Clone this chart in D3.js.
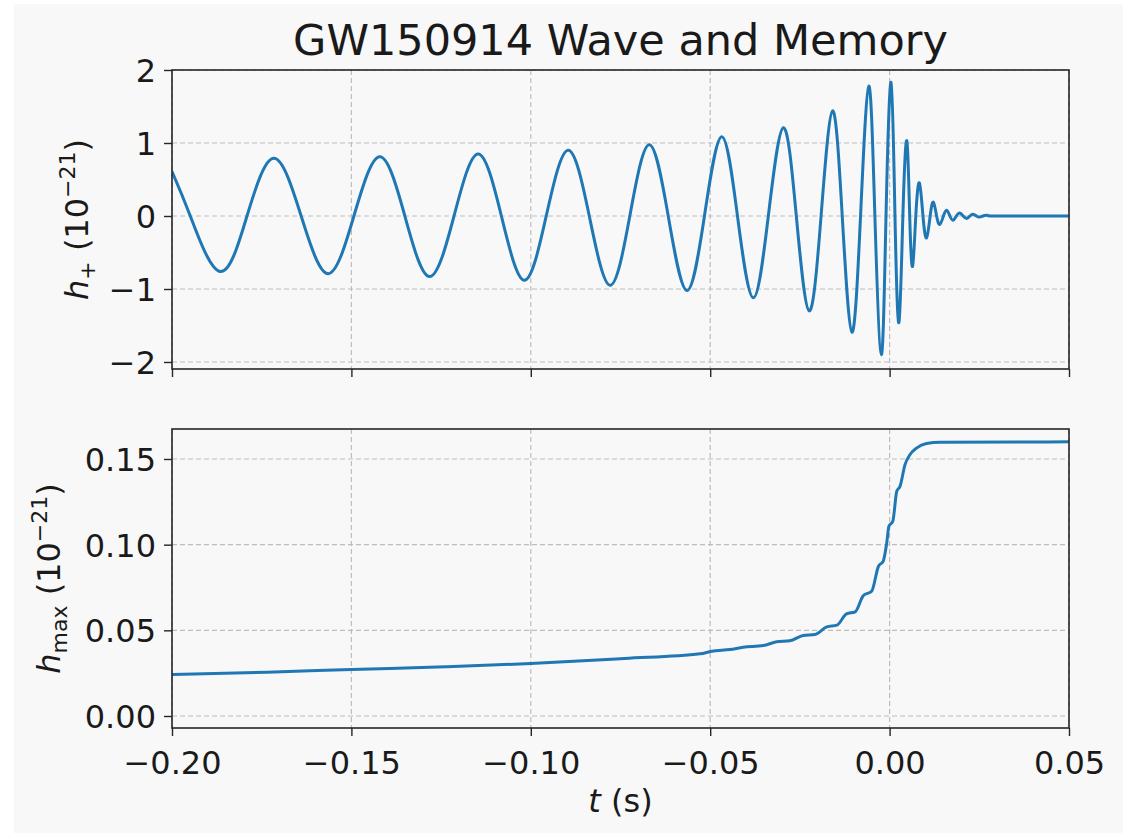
<!DOCTYPE html>
<html>
<head>
<meta charset="utf-8">
<script src="https://cdn.jsdelivr.net/npm/d3@7"></script>
<style>
  html, body { margin: 0; padding: 0; background: #ffffff; }
  svg { display: block; }
  text { font-family: "DejaVu Sans", sans-serif; fill: #1a1a1a; }
</style>
</head>
<body>
<svg id="chart" width="1130" height="833"></svg>
<script>
// ---- data ----
const titleText = "GW150914 Wave and Memory";
const xTicks = [-0.20, -0.15, -0.10, -0.05, 0.00, 0.05];
const topTicks = [-2, -1, 0, 1, 2];
const botTicks = [0.00, 0.05, 0.10, 0.15];

// strain h+ (1e-21): extrema and zero crossings
const waveT = [
  -0.2000, -0.1949, -0.1866, -0.1791, -0.1716, -0.1640, -0.1565, -0.1493,
  -0.1421, -0.1351, -0.1282, -0.1214, -0.1147, -0.1082, -0.1018, -0.0957,
  -0.0896, -0.0837, -0.0779, -0.0724, -0.0670, -0.0617, -0.0565, -0.0516,
  -0.0468, -0.0424, -0.0380, -0.0338, -0.0296, -0.0260, -0.0224, -0.0191,
  -0.0159, -0.0132, -0.0105, -0.0081, -0.0058, -0.0041, -0.0023, -0.0010,
   0.0004,  0.0015,  0.0026,  0.0037,  0.0048,  0.0056,  0.0064,  0.0073,
   0.0083,  0.0093,  0.0103,  0.0113,  0.0122,  0.0131,  0.0140,  0.0150,
   0.0159,  0.0168,  0.0177,  0.0186,  0.0195,  0.0205,  0.0215,  0.0224,
   0.0233,  0.0242,  0.0251,  0.0260,  0.0270,  0.0280,  0.0310,  0.0350,
   0.0400,  0.0450,  0.0500
];
const waveH = [
   0.61,  0,    -0.76,  0,     0.79,  0,    -0.79,  0,
   0.81,  0,    -0.83,  0,     0.85,  0,    -0.88,  0,
   0.90,  0,    -0.95,  0,     0.975, 0,    -1.02,  0,
   1.085, 0,    -1.12,  0,     1.21,  0,    -1.30,  0,
   1.44,  0,    -1.59,  0,     1.78,  0,    -1.90,  0,
   1.83,  0,    -1.46,  0,     1.03,  0,    -0.69,  0,
   0.455, 0,    -0.30,  0,     0.19,  0,    -0.116, 0,
   0.08,  0,    -0.057, 0,     0.04,  0,    -0.035, 0,
   0.025, 0,    -0.015, 0,     0.01,  0,     0,     0,
   0,     0,     0
];

// memory h_max (1e-21)
const memT = [
  -0.2000, -0.1735, -0.1500, -0.1237, -0.1000, -0.0739, -0.0528, -0.0496,
  -0.0445, -0.0408, -0.0352, -0.0315, -0.0278, -0.0241, -0.0208, -0.0175,
  -0.0147, -0.0120, -0.0096, -0.0073, -0.0050, -0.0031, -0.0018, -0.0008,
  -0.0002,  0.0009,  0.0020,  0.0029,  0.0043,  0.0057,  0.0076,  0.0103,
   0.0140,  0.0500
];
const memH = [
  0.0242, 0.0256, 0.0271, 0.0287, 0.0306, 0.0336, 0.0363, 0.0378,
  0.0388, 0.0401, 0.0411, 0.0433, 0.0439, 0.0470, 0.0476, 0.0520,
  0.0530, 0.0596, 0.0608, 0.0703, 0.0728, 0.0874, 0.0903, 0.1010,
  0.1107, 0.1137, 0.1312, 0.1340, 0.1467, 0.1526, 0.1565, 0.1590,
  0.1598, 0.1600
];

// ---- layout ----
const svg = d3.select("#chart");
const L = 172, R = 1069;
const topP = { y0: 70, y1: 369 };
const botP = { y0: 429, y1: 728 };
const blue = "#1f77b4";
const gridColor = "#bdbdbd";
const spineColor = "#262626";
const tickFont = 32;

svg.append("rect").attr("x", 14).attr("y", 4).attr("width", 1109).attr("height", 829)
  .attr("fill", "#f8f8f8");

const x = d3.scaleLinear().domain([-0.2, 0.05]).range([L, R]);
const yTop = d3.scaleLinear().domain([-2.096, 2.0]).range([topP.y1, topP.y0]);
const yBot = d3.scaleLinear().domain([-0.007, 0.1675]).range([botP.y1, botP.y0]);

const fmt2 = d3.format(".2f");
const fmt0 = d3.format("d");

function panel(y, p, yTicks, yFmt, showXLabels) {
  const g = svg.append("g");
  // grid
  g.selectAll(".vg").data(xTicks).join("line")
    .attr("x1", d => x(d)).attr("x2", d => x(d))
    .attr("y1", p.y0).attr("y2", p.y1)
    .attr("stroke", gridColor).attr("stroke-width", 1.2).attr("stroke-dasharray", "5,3");
  g.selectAll(".hg").data(yTicks).join("line")
    .attr("x1", L).attr("x2", R)
    .attr("y1", d => y(d)).attr("y2", d => y(d))
    .attr("stroke", gridColor).attr("stroke-width", 1.2).attr("stroke-dasharray", "5,3");
  // y axis ticks
  const ya = d3.axisLeft(y).tickValues(yTicks).tickFormat(yFmt).tickSize(8).tickPadding(6);
  const yg = g.append("g").attr("transform", `translate(${L},0)`).call(ya);
  yg.select(".domain").remove();
  yg.selectAll(".tick line").attr("stroke", spineColor).attr("stroke-width", 1.4);
  yg.selectAll(".tick text").attr("font-size", tickFont).attr("font-family", "DejaVu Sans")
    .attr("fill", "#1a1a1a").attr("dy", "0.36em").attr("x", -16);
  // x axis ticks
  const xa = d3.axisBottom(x).tickValues(xTicks).tickFormat(showXLabels ? fmt2 : () => "")
    .tickSize(8).tickPadding(6);
  const xg = g.append("g").attr("transform", `translate(0,${p.y1})`).call(xa);
  xg.select(".domain").remove();
  xg.selectAll(".tick line").attr("stroke", spineColor).attr("stroke-width", 1.4);
  xg.selectAll(".tick text").attr("font-size", tickFont).attr("font-family", "DejaVu Sans")
    .attr("fill", "#1a1a1a").attr("y", 0).attr("dy", 0).attr("transform", "translate(0,46)");
  return g;
}

const gTop = panel(yTop, topP, topTicks, fmt0, false);
const gBot = panel(yBot, botP, botTicks, fmt2, true);

// lines
svg.append("clipPath").attr("id", "ct").append("rect")
  .attr("x", L).attr("y", topP.y0).attr("width", R - L).attr("height", topP.y1 - topP.y0);
svg.append("clipPath").attr("id", "cb").append("rect")
  .attr("x", L).attr("y", botP.y0).attr("width", R - L).attr("height", botP.y1 - botP.y0);

const waveData = waveT.map((t, i) => [t, waveH[i]]);
const memData = memT.map((t, i) => [t, memH[i]]);

svg.append("path").datum(waveData)
  .attr("clip-path", "url(#ct)")
  .attr("fill", "none").attr("stroke", blue).attr("stroke-width", 3)
  .attr("stroke-linejoin", "round")
  .attr("d", d3.line().x(d => x(d[0])).y(d => yTop(d[1])).curve(d3.curveNatural));

svg.append("path").datum(memData)
  .attr("clip-path", "url(#cb)")
  .attr("fill", "none").attr("stroke", blue).attr("stroke-width", 3)
  .attr("stroke-linejoin", "round")
  .attr("d", d3.line().x(d => x(d[0])).y(d => yBot(d[1])).curve(d3.curveMonotoneX));

// spines
[topP, botP].forEach(p => {
  svg.append("rect").attr("x", L).attr("y", p.y0).attr("width", R - L).attr("height", p.y1 - p.y0)
    .attr("fill", "none").attr("stroke", spineColor).attr("stroke-width", 1.6);
});

// title
svg.append("text").attr("x", (L + R) / 2).attr("y", 55).attr("text-anchor", "middle")
  .attr("font-size", 43).text(titleText);

// y labels
function yLabel(cx, cy, sub) {
  const t = svg.append("text").attr("transform", `translate(${cx},${cy}) rotate(-90)`)
    .attr("text-anchor", "middle").attr("font-size", 32);
  t.append("tspan").attr("font-style", "italic").text("h");
  t.append("tspan").attr("font-size", 22).attr("dy", 7).text(sub);
  t.append("tspan").attr("dy", -7).text("\u00a0(10");
  t.append("tspan").attr("font-size", 22).attr("dy", -13).text("\u221221");
  t.append("tspan").attr("dy", 13).text(")");
}
yLabel(88, (topP.y0 + topP.y1) / 2, "+");
yLabel(60, (botP.y0 + botP.y1) / 2, "max");

// x label
const xl = svg.append("text").attr("x", (L + R) / 2).attr("y", 812).attr("text-anchor", "middle")
  .attr("font-size", 32);
xl.append("tspan").attr("font-style", "italic").text("t");
xl.append("tspan").text(" (s)");
</script>
</body>
</html>
